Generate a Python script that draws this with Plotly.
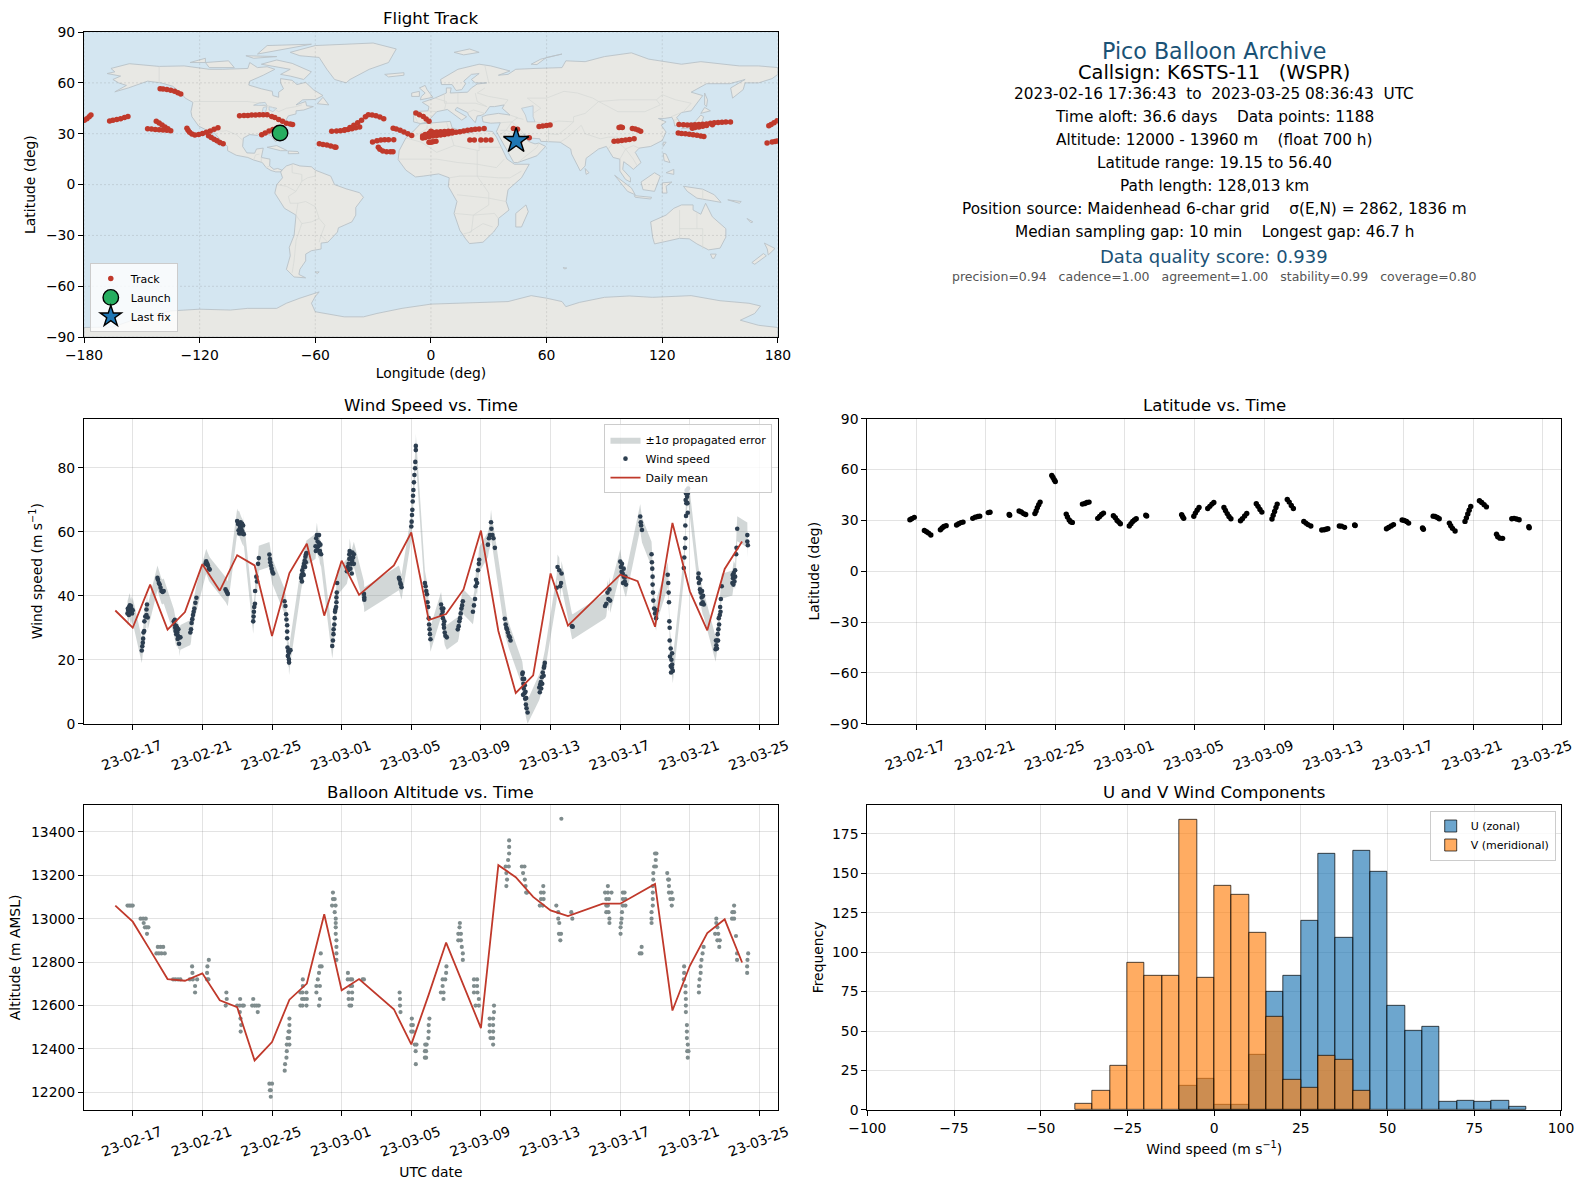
import pandas as pd
import plotly.graph_objects as go

FONT = "DejaVu Sans"
W, H = 1586, 1189
PLOT_L, PLOT_R, PLOT_T, PLOT_B = 83.5, 1563.3, 31.6, 1115.0

# ---------- map geography (lon, lat) ----------
north_america = [(-168,65.5),(-164,66.5),(-166,68.5),(-156.5,71.3),(-141,69.7),(-128,70),(-115,68),(-108,68),(-95,68.5),(-94,72),(-90,69),(-85,69.5),(-81,68),(-87,64.5),(-94,61),(-94.5,58.7),(-88,56.5),(-82.3,55),(-82,52.5),(-79,51.5),(-79,54.5),(-76.5,56.5),(-78,60),(-78,62.5),(-72,61.5),(-69.5,59),(-65,60.3),(-61,56),(-56,52.5),(-60,50.2),(-66.5,50),(-70,47),(-65,49),(-64.5,46.5),(-61,46),(-66,44),(-70,43.5),(-70,41.7),(-74,40.5),(-75.5,37.5),(-76,35),(-79,33.5),(-81,31.5),(-80,27),(-80.5,25.2),(-82,27),(-83,29),(-85,29.7),(-89,30),(-90,29),(-94,29.5),(-97.3,27.5),(-97.7,22.5),(-95.5,18.7),(-91.5,18.5),(-90.5,21),(-87,21.5),(-88,16),(-83.5,15),(-83.7,11),(-81.5,9),(-79.5,9.5),(-77.3,8.5),(-78,7.5),(-80.5,7.5),(-83,8.3),(-85.5,10),(-87.5,13),(-92,14.5),(-95,16),(-101,17.3),(-105.5,20),(-105.5,22.5),(-109,26),(-113,31.3),(-114.7,31.7),(-112,27),(-109.5,23),(-112,25),(-115,28),(-117,32.5),(-120.5,34.5),(-124,40),(-124.5,43),(-123.5,48.5),(-127.5,51),(-130,54.5),(-134,58),(-140,60),(-147,61),(-152,59),(-157,57),(-164,54.7),(-158,58.5),(-162,60),(-165,62),(-161,64),(-168,65.5)]
south_america = [(-77.3,8.5),(-75,11),(-71.5,12.3),(-68,11),(-62,10.5),(-60,8.5),(-52,5),(-50,0),(-44,-2.5),(-37,-4.8),(-35,-7.5),(-39,-13.5),(-39,-18),(-41,-22),(-48,-25.5),(-48.5,-28),(-53.5,-34),(-57,-34.5),(-57,-38),(-62,-39),(-65,-41),(-65,-45),(-68,-50),(-68.5,-53),(-65,-55),(-71,-54.5),(-75,-50),(-73,-42),(-73.5,-37),(-71,-30),(-70,-18),(-76,-14),(-81,-5),(-80,0),(-77,4),(-78,7.5),(-77.3,8.5)]
africa = [(-5.5,35.8),(10,37.3),(11,33.5),(19,30.3),(25,32),(32,31.3),(34,28),(37,21),(39.5,15),(43.3,12),(51,12),(47,4),(40,-3),(39,-10),(40.5,-15),(35,-20),(35,-24),(32.5,-28),(27,-34),(20,-34.8),(18,-32),(15,-27),(12,-17),(13.5,-10),(9,-1),(9.5,4),(4,6.3),(-4,5),(-8,4.5),(-13,8.5),(-17,14.7),(-16.5,20),(-13,27.5),(-9.5,31),(-5.5,35.8)]
eurasia = [(-9,37),(-9,43),(-1.5,43.5),(-1,46),(-4.5,48.5),(2,51),(8,54),(8,57),(10.5,57),(10,54),(19,54.5),(21,57),(24,59.3),(29,60),(23,60),(21,62),(25,65.5),(21,65),(17,61),(18,59.5),(16,56),(13,55.5),(11,59),(5.5,59),(5,62),(14,68),(25,71),(31,70),(41,67),(35,64.5),(40,65),(44,68),(54,68.5),(68,69),(70,73),(80,72.5),(90,75.5),(104,77.7),(113,74),(130,71),(140,72.5),(160,70),(170,70),(180,69),(180,65),(177,62.5),(170,60),(163,60),(162,56),(156.5,51),(155.5,57),(163,62),(155,59.5),(143,59.5),(135,54.5),(141,52.5),(135,43.5),(130,42.5),(127.5,39.5),(129.5,36),(126.5,34.5),(126,37.5),(125,39.7),(121,39),(118,39),(122,37),(119.5,35),(122,31),(120,26),(114,22.5),(108,21.5),(106,19),(109,13),(105,9),(103,11),(100,13.5),(99.5,9),(103.5,4),(103.5,1.5),(101,3),(98,8),(98,15),(94.5,16),(91,22.5),(87,21),(80.5,15.5),(80,11),(77.5,8),(73,18),(72.5,21),(67,25),(57,25.5),(56.5,27),(51,27.5),(48,30),(50,26),(51.5,25),(54,24),(56,24.5),(59.5,22.5),(55,17),(45,13),(43,13),(39,21),(34.9,29),(34,31.3),(36,36.5),(31,36.2),(27,37),(26.5,40),(29,41),(35,42),(41,41),(37,45),(38,47),(33,46),(30.5,46),(28,42),(26,40.8),(24,40.5),(23,36.5),(19.5,41),(19,42.5),(13.5,45.5),(12.5,44),(18.5,40),(16,38),(11,42.5),(8.5,44.3),(3,43),(0,39.5),(-2,36.8),(-5.5,36),(-9,37)]
australia = [(114,-22),(122,-18),(126,-14),(130,-12),(136,-12),(136,-15),(140,-17.5),(142.5,-11),(146,-19),(153,-26),(153,-31),(150,-37.5),(144,-38.5),(138,-35),(134,-32),(129,-31.7),(124,-33),(116,-35),(115,-31),(114,-22)]
antarctica = [(-180,-84.3),(-165,-84),(-150,-78),(-135,-74.5),(-120,-73.5),(-104,-74),(-95,-73),(-80,-73),(-75,-70),(-68,-67),(-58,-63.3),(-60,-66),(-62,-70),(-60,-75),(-45,-78),(-35,-78),(-28,-76),(-15,-73),(0,-70.5),(15,-70),(30,-69.5),(40,-69),(52,-65.5),(60,-67),(68,-69),(70,-72),(77,-69.5),(90,-66.5),(103,-65.7),(115,-66.5),(135,-65.5),(150,-68.5),(165,-70),(171,-71.6),(168,-76),(160.5,-80),(170,-83),(180,-84.3),(180,-90),(-180,-90),(-180,-84.3)]
islands = [
 [(-73,78),(-60,82),(-30,83.5),(-18,80),(-22,72),(-32,68),(-42,62),(-44,60),(-50,62),(-54,68),(-58,75),(-68,76),(-73,78)],
 [(-80,73.5),(-72,71.5),(-62,66.5),(-66,62),(-73,64),(-78,65),(-73,68),(-88,71),(-80,73.5)],
 [(-117,72),(-105,73),(-102,69),(-115,69),(-117,72)],
 [(-90,77),(-65,82),(-62,82.8),(-85,82),(-90,77)],
 [(-125,72),(-117,74.5),(-117,72),(-125,72)],
 [(-96,76),(-80,75.5),(-92,74.5),(-96,76)],
 [(-59,47.7),(-56,51.5),(-53,47),(-59,47.7)],
 [(-85,22),(-80,23),(-74.5,20),(-78,20),(-85,22)],
 [(-74,19.8),(-69,19.5),(-68.5,18.3),(-74,18.2),(-74,19.8)],
 [(-5.5,50),(1,51.5),(-2,56),(-3,58.5),(-6,57),(-3,54),(-5,52),(-5.5,50)],
 [(-10,52),(-6,52),(-6,55),(-10,54),(-10,52)],
 [(-24,65),(-14,66),(-14,64.5),(-22,63.5),(-24,65)],
 [(12,78),(20,80),(25,78),(17,76.5),(12,78)],
 [(52,71),(57,74),(68,77),(60,75),(55,70.8),(52,71)],
 [(142,54),(143.5,50),(143,46),(142,47),(142,54)],
 [(130,33),(135,33.5),(140,35),(141.5,40),(140,41),(137,37),(131,34),(130,33)],
 [(140,42),(142,45.5),(145,43.5),(141,42),(140,42)],
 [(120.5,22.5),(122,25),(120.5,25),(120.5,22.5)],
 [(120.5,18.5),(122,18),(124,13),(121,14),(120.5,18.5)],
 [(122,7),(126,9),(126,6),(124,6.5),(122,7)],
 [(109,1.5),(116,7),(119,5),(117.5,1),(116,-4),(110,-3),(109,1.5)],
 [(95.3,5.5),(104,-2),(106,-6),(102,-4),(95.3,5.5)],
 [(105.5,-6.5),(114.5,-7.5),(114,-8.5),(106,-7.5),(105.5,-6.5)],
 [(120,1),(125,1.5),(122,-1),(122.5,-5),(120,-5),(120,1)],
 [(131,-1),(141,-2.7),(147,-6),(150.5,-10.5),(143,-9),(138,-8),(133,-4),(131,-1)],
 [(49.3,-12),(50.5,-16),(47,-25),(44,-25),(44,-17),(49.3,-12)],
 [(80,9.5),(82,7),(80.5,6),(80,9.5)],
 [(145,-41),(148,-41),(147,-43.5),(146,-43.5),(145,-41)],
 [(173,-34.5),(178.5,-37.7),(175,-41.5),(174.5,-38),(173,-34.5)],
 [(172.5,-40.7),(174,-42),(168,-47),(166.5,-46),(172.5,-40.7)],
 [(154,-9),(161,-10),(160,-11),(154,-9)],
 [(164,-20),(167,-22),(166,-22.5),(164,-20)],
 [(-60,-51.5),(-58,-51.5),(-59,-52.5),(-60,-51.5)],
 [(68.5,-49),(70.5,-49.2),(69.5,-49.8),(68.5,-49)],
]
lakes = [
 [(47,45),(53,46.5),(53,40),(54,37),(50,37),(49,41),(47,45)],
 [(-92,46.8),(-85,46.6),(-86,48.5),(-89,48.2),(-92,46.8)],
 [(-87.7,42),(-86,42),(-85,46),(-87,45.5),(-87.7,42)],
 [(-84,46),(-80,45),(-82,43),(-84,44),(-84,46)],
]
border_lines = [
 [(-141,69.7),(-141,60)],
 [(-123,49),(-95,49),(-89,48),(-83,46),(-79,43),(-75,45),(-70,46),(-67,47)],
 [(-117,32.5),(-108,31.5),(-106,31.8),(-101,29.5),(-97.5,26)],
 [(-92,14.5),(-91,17.5),(-89,18)],[(-88,16),(-88,13)],[(-85.5,10),(-83.7,11)],
 [(-72,12),(-72,7),(-67,6),(-67,2),(-70,-4),(-74,-7),(-73,-11),(-69,-11),(-65,-10),(-60,-13),(-58,-20),(-55,-24),(-57,-30),(-53.5,-34)],
 [(-60,8.5),(-60,5),(-64,4),(-67,2)],[(-80,0),(-75,-1),(-70,-4)],[(-70,-18),(-69,-11)],
 [(-70,-18),(-67,-23),(-70,-33),(-71,-45),(-72,-52)],[(-67,-23),(-62,-22),(-58,-20)],[(-57,-30),(-58,-34)],
 [(-9,28),(-2,33),(-2,35)],[(-13,27.5),(-5,25),(3,19),(12,23),(10,30),(8,37)],[(12,23),(25,20),(25,32)],
 [(25,22),(37,22)],[(-17,15),(-5,15),(3,15),(14,13),(24,12),(34,10),(38,15)],[(24,20),(24,5),(30,-5),(30,-12),(22,-18),(21,-28),(17,-29)],
 [(9.5,4),(15,5),(24,5),(35,4),(41,4),(47,8)],[(13.5,-6),(22,-7),(30,-8),(39,-10)],[(12,-17),(22,-18),(33,-17),(35,-20)],[(20,-28),(27,-23),(32,-25)],
 [(-1.5,43.5),(3,43)],[(-9,42),(-7,37)],[(2,51),(8,49),(7,44)],[(7,54),(7,48),(13,48),(17,48),(23,48),(29,46)],[(14,54),(14,48)],[(23,54),(24,49),(29,46)],[(28,57),(24,54),(30,52),(40,50),(38,47)],[(28,70),(30,60)],
 [(26,40.8),(28,42),(22,44),(19,42.5)],[(36,36.5),(42,37),(45,39.5),(41,41)],[(42,37),(46,33),(48,30)],[(36,32),(39,32),(42,37)],[(36,29.5),(39,32),(47,29),(48,30)],
 [(45,13),(52,19),(55,22),(56,24.5)],[(44,39.5),(48,38.5)],[(54,37),(61,36),(61,31),(61,25)],[(61,36),(66,37.5),(74,37)],[(61,30),(66,29.5),(70,33),(74,37)],
 [(67,25),(71,28),(75,32),(78,35),(80,30),(88,27),(92,28),(97,28),(94,24),(92,21)],
 [(53,42),(57,45),(50,51),(60,51),(69,55),(76,54),(84,51),(87,49),(98,50),(107,50),(117,50),(120,53),(127,50),(135,48),(131,43)],
 [(87,49),(80,42),(74,40),(74,37)],[(87,49),(97,43),(111,43),(119,47),(117,50)],[(98,28),(98,24),(101,21),(105,23),(108,21.5)],[(101,21),(105,15),(107,11)],[(98,15),(101,21)],
 [(124.5,40),(130,42.5)],[(126,38),(128.5,38.5)],[(141,-2.7),(141,-9)],[(129,-15),(129,-31.7)],[(138,-16),(138,-26),(141,-26),(141,-38)],[(129,-26),(138,-26)],
]
map_lon_ticks = [-180, -120, -60, 0, 60, 120, 180]
map_lat_ticks = [-90, -60, -30, 0, 30, 60, 90]

# ---------- flight track (lon, lat) ----------
track_pts = [
 (-179.8,37.9),(-178.5,38.9),(-177.3,40),(-176.4,41.1),
 (-166.7,37.5),(-165,37.9),(-163,38.4),(-161,38.9),(-159,39.5),(-157.2,40.2),
 (-140.5,56.5),(-139,56.4),(-137,56.1),(-135,55.6),(-133,55),(-131.3,54.2),(-129.8,53.5),
 (-147,32.9),(-145,32.8),(-143,32.5),(-141,32.3),(-139,32.2),(-137,32),(-135,31.8),(-142.5,37.3),(-141,36.3),(-139.5,35.2),(-138,34),(-136.5,33),
 (-126.6,33.3),(-126,32),(-125.2,30.8),(-124,29.8),(-122.5,29.2),(-120.5,29.6),(-118.5,30.1),(-116.5,30.8),(-114.5,31.6),(-112.5,32.6),(-110.5,33.5),
 (-115.4,28.8),(-114,27.8),(-112.5,26.8),(-111,25.8),(-109.5,24.8),(-107.8,24.1),
 (-99.3,40.6),(-97,40.7),(-95,40.7),(-93,41),(-91,41.1),(-89,41.2),(-87,41.2),(-85,41.2),
 (-82.6,40.2),(-81,39.5),(-79,38.4),(-77,37.3),(-75,36.2),(-73,35.7),(-71.8,35.5),
 (-87.8,29.4),(-86,30.5),(-84,31.6),(-82,32.5),(-80,33.3),
 (-57.9,24.1),(-56,23.7),(-54,23.4),(-52,22.8),(-50,22.2),(-49.3,22),
 (-51.5,31.4),(-49,31.6),(-47,31.7),(-45,32),(-43,32.5),(-41,33),(-39,33.5),(-37,33.9),(-44.6,32.4),(-42,33.6),(-40,35),(-38,36.5),(-36,38),(-34,40),(-32.5,41.2),(-30.5,41.1),(-28.5,40.6),(-26.5,39.8),(-24.5,38.9),
 (-30.3,25.1),(-28,25.9),(-26,26.3),(-24,26.5),(-22,26.5),(-19.3,26.5),(-27.3,22),(-26.5,20.8),(-25,19.8),(-23,19.4),(-21,19.3),(-19.7,19.3),
 (-19.6,33.3),(-18,32.8),(-16,32),(-14,31),(-12,30),(-10,28.9),
 (-7.8,42.2),(-6,41.2),(-4,40.2),(-2.5,38.7),(-1,37.3),
 (-4.3,27.5),(-3,27.8),(-1,28.2),(1,28.7),(3,29),(5,29.3),(7,29.6),(9,30),(11,30.4),(13,30.8),(15,31.2),(17,31.6),(19,32),(21,32.3),(23,32.6),(25,32.8),(27.6,33.1),
 (-4.3,28.6),(-3,29.5),(-1,30.3),(1,30.8),(3,31),(5,31.2),(7,31.3),(9,31.4),(11,31.4),
 (-2.5,28.5),(-1,29),(1,29.5),(3,30),(5,30.2),(-1,25),(0,25),(1,25.2),(2.6,25.6),(-3,29),(0,31.4),(2,30),
 (20.2,26.3),(22.5,26.3),(25.9,26.3),(28.5,26.3),(31.1,26.3),
 (42.8,33.1),(44.9,32.7),(51,27.6),(56.1,34.3),(58,34.6),(60,34.9),(61.8,35.1),
 (97.6,33.7),(98.5,33.9),(99.3,33.7),(104.5,33.1),(106,32.8),(107.5,32.2),(108.8,31.4),
 (95,25.5),(97,25.7),(99,26),(101,26.3),(103,26.6),(105.4,27),
 (128.7,35.5),(131,35.3),(133,35.2),(135,35.2),(137,35.3),(139,35.5),(141,35.6),(143,35.8),(145,36.2),(147,36.4),(149,36.6),(151,36.7),(153,36.9),(155.4,36.9),
 (135.6,33.3),(137,33.7),(139,34),(141,34.4),(143,34.8),(146,35.3),
 (128.3,30.4),(130,30.2),(132,30),(134,29.7),(136,29.4),(138,29.1),(140,28.6),(141.6,28.4),
 (175.3,34.7),(176.5,35.4),(178,36.5),(179.6,37.6),(174.4,24.5),(177,25.1),(178.5,25.4),(179.6,25.7),
 (44.2,26.5),(46,25),
]
launch_point = (-78.3, 30.4)
last_fix_point = (44.2, 25.9)

# ---------- time axis ----------
first_day = pd.Timestamp("2023-02-17")
date_range = ["2023-02-14 04:50", "2023-03-26 01:20"]
date_ticks = ["2023-02-17","2023-02-21","2023-02-25","2023-03-01","2023-03-05","2023-03-09","2023-03-13","2023-03-17","2023-03-21","2023-03-25"]
date_labels = ["23-02-17","23-02-21","23-02-25","23-03-01","23-03-05","23-03-09","23-03-13","23-03-17","23-03-21","23-03-25"]

# ---------- wind speed: (days after 23-02-17, m/s) ----------
wind_obs = [
 (-0.3,34.5),(-0.25,35.5),(-0.2,36.5),(-0.17,37),(-0.12,35),(-0.08,36),(-0.04,34.5),(0,35.5),
 (0.52,22.9),(0.55,24.2),(0.58,25.3),(0.6,26.6),(0.62,28.5),(0.66,29),(0.67,32),(0.72,33.5),(0.79,34),(0.79,35.7),(0.82,37.3),(0.86,33.2),
 (1.42,45.6),(1.45,45),(1.5,44),(1.55,43.5),(1.6,42.5),(1.65,41.5),(1.72,41.2),(1.78,41.5),
 (2.36,32),(2.4,31),(2.44,30),(2.46,29),(2.5,28),(2.56,28.5),(2.6,27.5),(2.68,27),(2.66,25),(2.74,27),
 (3.31,28.5),(3.35,29.5),(3.38,31.5),(3.42,32.7),(3.46,34),(3.5,35),(3.54,36),(3.6,37.8),(3.66,39.4),
 (4.18,50),(4.22,50.8),(4.28,50),(4.32,49.5),(4.38,48.5),(4.42,48.2),
 (5.33,42),(5.38,41.5),(5.42,41),(5.46,40.6),
 (6,63.4),(6.05,62.5),(6.1,62.8),(6.16,61.5),(6.22,61),(6.26,60.5),(6.3,60),(6.38,59.3),(6.34,62),
 (6.92,32),(6.94,33.5),(6.96,35),(6.98,36.5),(7.02,37.5),(7.03,41.5),(7.1,46),(7.14,44.5),(7.2,50),(7.24,51.8),
 (7.85,52.9),(7.88,51.5),(7.9,50.5),(7.94,49.5),(7.98,48.5),(8.02,47.5),(8.07,47),
 (8.72,38.3),(8.77,36.8),(8.81,34.2),(8.83,32.6),(8.87,30.8),(8.87,28.8),(8.87,26.7),(8.89,23.8),(8.93,22.7),(8.91,21.2),(8.97,22.2),(8.97,20.1),(8.98,19.1),(9.06,23),
 (9.67,45.6),(9.7,46.5),(9.74,48),(9.76,47),(9.8,49),(9.84,50),(9.88,51),(9.92,52.2),(9.98,53.4),
 (10.5,55.5),(10.54,58),(10.58,59),(10.62,57),(10.66,55.5),(10.7,56.5),(10.75,54),(10.82,53),
 (11.46,24.3),(11.5,26),(11.53,28),(11.54,29.5),(11.58,31),(11.6,33),(11.62,35),(11.64,35.7),(11.68,36.5),(11.7,38),(11.7,39.5),(11.72,41),(11.74,44),
 (12.3,47.7),(12.34,49),(12.4,50),(12.44,51.5),(12.46,54),(12.52,52),(12.56,50),(12.6,51),(12.66,52),(12.7,53),
 (13.28,40.6),(13.3,39.5),(13.3,38.8),
 (15.29,45.6),(15.33,45),(15.37,44),(15.4,43.5),(15.44,42.7),
 (16,61.7),(16.02,63.2),(16.04,65.3),(16.06,66.9),(16.08,69.5),(16.1,71.3),(16.12,73.1),(16.15,75.5),(16.18,77.8),(16.22,79.9),(16.23,81.9),(16.26,85.6),(16.26,86.9),
 (16.78,44),(16.82,43),(16.86,41.5),(16.9,40.5),(16.93,38),(16.97,36.5),(17,33),(17.02,31),(17.05,29.5),(17.07,28),(17.1,26.4),
 (17.71,37.3),(17.75,36),(17.8,35),(17.82,33),(17.86,31),(17.88,30),(17.92,28.5),(18.04,27),
 (18.67,29.5),(18.72,30.5),(18.76,32),(18.8,33),(18.84,34.5),(18.88,36),(18.92,37),(18.96,38.3),
 (19.54,35),(19.6,37),(19.66,39),(19.7,43),(19.72,45),(19.78,44),(19.83,48),(19.88,50),(19.9,51.3),
 (20.4,56),(20.46,58),(20.52,59),(20.58,63),(20.6,61),(20.66,59),(20.72,58),(20.8,55),
 (21.37,32.8),(21.42,31),(21.46,30),(21.5,29.5),(21.55,28.5),(21.6,27.5),(21.66,27),(21.7,26),
 (22.38,15.5),(22.4,14),(22.44,12.5),(22.46,11),(22.5,9.5),(22.54,7.8),(22.58,6),(22.62,4.8),(22.68,3.5),
 (23.35,11.3),(23.4,12.2),(23.44,13),(23.5,14.5),(23.55,16),(23.62,17.5),(23.67,19),
 (24.35,42.5),(24.4,49),(24.5,48),(24.55,43),(24.6,44),(24.63,47),
 (25.23,30.5),(25.27,30.3),
 (27.13,36.8),(27.2,37.5),(27.27,41),(27.32,39),(27.38,42),(27.42,38.5),
 (28,50.7),(28.04,49),(28.08,47.5),(28.14,47),(28.2,46),(28.26,44.5),(28.33,43.5),
 (29.15,64.8),(29.18,63),(29.2,62),(29.25,60.6),
 (29.8,53),(29.82,50.5),(29.84,48.5),(29.86,46),(29.86,43.5),(29.88,41),(29.9,38.5),(29.95,36),(30,34.5),(30.06,33),(30.1,35.5),
 (30.73,46.6),(30.76,44),(30.78,41),(30.8,38),(30.82,32),(30.84,30),(30.84,26),(30.9,23.5),(30.94,20),(30.98,18.5),(31.02,16.5),
 (31.65,48.7),(31.68,52),(31.72,55),(31.74,58),(31.74,62),(31.78,65),(31.8,69),(31.84,71),(31.88,72),(31.9,73.6),
 (32.48,45.6),(32.52,44),(32.58,42),(32.62,41),(32.68,39.5),(32.74,38),(32.8,37.3),
 (33.48,23.3),(33.52,24.5),(33.56,26),(33.6,28),(33.64,29.5),(33.68,31),(33.72,34),(33.74,36.5),(33.78,39),(33.83,43),
 (34.44,44),(34.48,45.5),(34.52,47.1),(34.6,46),(34.66,53),(34.68,55),(34.72,61),
 (35.3,59),(35.3,57),(35.33,55.8),
]
wind_obs_side = [
 (-0.22,34),(-0.18,35.2),(-0.1,36.8),(-0.28,36),
 (2.42,32.5),(2.5,30.5),(2.55,30),(2.62,29.5),(2.58,26.5),
 (6.08,60.5),(6.2,63),(6.28,62.5),(6.12,59.5),(6.24,59.5),
 (9.72,44.5),(9.82,46.5),(9.9,49),(9.94,50.5),(9.95,53),
 (10.52,54),(10.6,54.5),(10.7,59),(10.78,56),(10.74,53.5),
 (12.38,48),(12.5,48.5),(12.62,53.5),(12.7,50),(12.44,53),(12.58,47),
 (17.74,34),(17.84,36),(17.9,32),(17.96,27.5),
 (22.42,9),(22.48,14),(22.52,12),(22.56,10),(22.4,16),(22.6,8),
 (23.38,9.8),(23.46,11),(23.52,12.5),(23.6,15),(23.64,18),
 (28.1,50),(28.2,48.5),(28.3,46),(28.16,44),
 (30.9,18),(30.96,17.5),(30.98,22),(30.86,21),(30.92,16),
 (31.76,70),(31.82,73),(31.86,69),(31.78,72),(31.88,66),
 (32.5,47),(32.6,45),(32.7,41.5),(32.76,40),(32.66,37.5),
 (33.5,26),(33.56,23.5),(33.62,26),(33.66,33),(33.76,35),
 (34.46,46.5),(34.56,44.5),(34.6,48),(34.5,43.5),
]
wind_sigma = 3.9
daily_days_w = [-1,0,1,2,3,4,5,6,7,8,9,10,11,12,13,15,16,17,18,19,20,21,22,23,24,25,28,29,30,31,32,33,34,35]
daily_wind = [35.4,30,43.5,29.4,34.9,49.9,41.6,52.7,49.5,27.4,47.1,56.3,33.8,51,40.3,49.5,59.8,32.4,34.3,42,60.4,29,9.6,15.1,47,30.7,46.6,44.6,30.3,62.8,41.4,29.2,48.4,57]

# ---------- latitude: (days after 23-02-17, deg) ----------
lat_obs = [
 (-0.35,30.4),(-0.25,31),(-0.1,31.8),
 (0.48,24.1),(0.6,23.3),(0.72,22.5),(0.85,21.4),
 (1.4,24.5),(1.5,25.5),(1.6,26.4),(1.73,26.9),
 (2.33,27.3),(2.45,28),(2.58,28.7),(2.7,29),
 (3.26,31.2),(3.4,31.9),(3.55,32.3),(3.66,32.5),
 (4.15,34.6),(4.25,34.8),
 (5.35,33.5),(5.38,33),
 (5.92,35.5),(6.05,35),(6.18,34),(6.3,33.5),
 (6.83,34),(6.9,35.5),(6.97,37.5),(7.05,39.3),(7.13,40.8),
 (7.8,56.5),(7.87,55.3),(7.94,54),(8,53),
 (8.63,33.7),(8.7,32),(8.8,30.3),(8.88,29.2),(8.98,28.8),
 (9.56,39.6),(9.7,40),(9.82,40.6),(9.94,40.8),
 (10.44,31.2),(10.55,32.3),(10.66,33.5),(10.77,34.3),
 (11.34,32.7),(11.45,31.6),(11.55,30),(11.65,29),(11.74,28),
 (12.25,26.7),(12.35,28),(12.45,29.3),(12.55,30.3),(12.65,31),
 (13.2,33),(13.25,32.6),
 (15.26,33.3),(15.32,32.2),(15.38,31.2),
 (15.96,32.4),(16.05,34.3),(16.15,36),(16.26,37.6),
 (16.76,37),(16.88,38.3),(17,39.6),(17.11,40.6),
 (17.69,37.6),(17.78,35.8),(17.88,34),(17.98,32.3),(18.09,31),
 (18.64,29.8),(18.75,31),(18.88,32.6),(19,34.1),
 (19.55,39.8),(19.65,38.3),(19.76,36.4),(19.87,34.9),
 (20.45,30.8),(20.52,33),(20.6,35.3),(20.68,37.6),(20.75,39.6),
 (21.33,42.4),(21.44,40.8),(21.56,38.8),(21.68,37),
 (22.28,29.4),(22.4,28.4),(22.52,27.5),(22.68,26.7),
 (23.31,24.3),(23.45,24.5),(23.55,24.8),(23.66,25.1),
 (24.32,26.7),(24.45,26.6),(24.62,25.9),
 (25.2,27.3),(25.23,27),
 (27.03,25.1),(27.15,25.8),(27.3,26.7),(27.43,27.5),
 (27.93,30.2),(28.05,30),(28.18,29.3),(28.3,28.4),
 (29.1,25.5),(29.15,24.8),
 (29.71,32.5),(29.82,32.3),(29.95,31.7),(30.06,31),
 (30.64,28.4),(30.72,26.9),(30.82,25.3),(30.97,23.7),
 (31.54,29.4),(31.62,31.5),(31.7,33.8),(31.78,36),(31.87,38.2),
 (32.37,41.6),(32.5,40.6),(32.64,39.3),(32.77,38),
 (33.35,21.8),(33.42,20.3),(33.55,19.5),(33.7,19.4),
 (34.23,31),(34.36,31.2),(34.5,30.8),(34.65,30.4),
 (35.21,26.2),(35.23,25.6),
]

# ---------- altitude: (days after 23-02-17, m) ----------
alt_obs = [
 (-0.3,13060),(-0.2,13060),(-0.1,13060),(0,13060),
 (0.45,13000),(0.6,13000),(0.75,13000),(0.63,12980),(0.7,12960),(0.8,12960),(0.9,12960),(0.82,12930),
 (1.44,12870),(1.6,12870),(1.75,12870),(1.36,12840),(1.5,12840),(1.65,12840),(1.84,12840),
 (2.32,12720),(2.45,12720),(2.6,12720),(2.74,12720),
 (3.41,12780),(3.43,12750),(3.28,12720),(3.45,12720),(3.7,12720),(3.58,12690),(3.58,12660),
 (4.37,12810),(4.29,12780),(4.27,12750),(4.27,12720),(4.35,12720),
 (5.38,12660),(5.4,12630),(5.34,12600),
 (6.17,12630),(6,12600),(6.15,12600),(6.3,12600),(6.38,12600),(6.15,12570),(6.19,12540),(6.23,12510),(6.2,12480),
 (6.92,12630),(6.86,12600),(7,12600),(7.12,12600),(7.24,12600),(7.18,12570),
 (7.85,12240),(8,12240),(7.93,12210),(7.88,12210),(7.93,12180),
 (9,12540),(9,12510),(8.95,12480),(9,12480),(8.9,12450),(8.98,12450),(8.85,12420),(9,12420),(8.85,12390),(8.83,12360),(8.75,12330),(8.73,12300),
 (9.77,12720),(9.77,12690),(9.63,12660),(9.75,12660),(9.98,12660),(9.73,12630),(9.85,12630),(10,12630),(9.63,12600),(9.75,12600),(9.98,12600),
 (10.8,12840),(10.75,12780),(10.85,12780),(10.7,12750),(10.63,12720),(10.55,12690),(10.75,12690),(10.55,12660),(10.75,12630),(10.7,12600),
 (11.5,13120),(11.5,13090),(11.6,13090),(11.45,13060),(11.65,13060),(11.6,13030),(11.66,13000),(11.66,12980),(11.66,12960),(11.66,12930),(11.7,12900),(11.7,12870),(11.7,12840),(11.7,12810),
 (12.36,12750),(12.35,12720),(12.5,12720),(12.6,12720),(12.5,12690),(12.6,12690),(12.4,12660),(12.6,12660),(12.4,12630),(12.6,12630),(12.45,12600),(12.55,12600),
 (13.28,12720),(13.2,12720),
 (15.33,12660),(15.35,12630),(15.35,12600),(15.38,12570),
 (16.03,12540),(16.09,12510),(16,12510),(16.09,12480),(16,12480),(16.2,12420),(16.3,12420),(16.25,12390),(16.26,12330),
 (17.04,12540),(17,12510),(17,12480),(16.98,12450),(16.88,12420),(16.8,12420),(16.85,12390),(16.78,12390),(16.85,12360),(16.78,12360),
 (18.02,12780),(18,12750),(17.8,12720),(17.95,12720),(17.8,12690),(17.7,12660),(17.85,12660),(17.85,12630),
 (18.79,12980),(18.77,12960),(18.7,12930),(18.85,12930),(18.7,12900),(18.85,12900),(18.9,12870),(18.96,12840),(18.96,12810),
 (19.6,12720),(19.78,12720),(19.6,12690),(19.78,12690),(19.6,12660),(19.8,12660),(19.88,12630),(19.69,12600),(19.88,12600),
 (20.75,12600),(20.75,12570),(20.5,12540),(20.7,12540),(20.5,12510),(20.7,12510),(20.5,12480),(20.7,12480),(20.55,12450),(20.7,12450),(20.7,12420),
 (21.62,13360),(21.62,13330),(21.62,13300),(21.56,13270),(21.42,13240),(21.6,13240),(21.46,13210),(21.5,13180),(21.46,13150),
 (22.35,13240),(22.5,13240),(22.42,13210),(22.52,13180),(22.56,13150),(22.65,13120),(22.6,13120),
 (23.58,13150),(23.45,13120),(23.6,13120),(23.45,13090),(23.6,13090),(23.38,13060),(23.55,13060),
 (24.33,13060),(24.44,13030),(24.44,13000),(24.5,12980),(24.48,12930),(24.6,12930),(24.56,12900),(24.62,13460),
 (25.19,13030),(25.25,13000),
 (27.29,13150),(27.13,13120),(27.29,13120),(27.5,13120),(27.2,13090),(27.35,13090),(27.29,13060),(27.2,13060),(27.33,13030),(27.2,13030),(27.38,13000),(27.38,12980),
 (28.15,13120),(28.25,13120),(28.15,13090),(28.3,13090),(28.15,13060),(28.3,13060),(28.1,13030),(28.08,13000),(28.05,12980),(28.02,12960),(28.02,12930),
 (29.23,12870),(29.12,12840),(29.22,12840),
 (30.0,13300),(30.08,13300),(30.04,13270),(29.95,13240),(30.05,13240),(29.9,13210),(29.9,13180),(29.87,13150),(29.87,13120),(29.87,13090),(29.87,13060),(29.8,13030),(29.8,13000),(29.8,12980),
 (30.7,13210),(30.75,13180),(30.8,13180),(30.8,13150),(30.8,13120),(30.95,13120),(30.88,13090),(31.02,13090),(30.96,13060),
 (31.67,12780),(31.67,12750),(31.65,12720),(31.75,12690),(31.75,12660),(31.77,12630),(31.77,12600),(31.77,12570),(31.83,12510),(31.83,12480),(31.83,12450),(31.88,12420),(31.85,12390),(31.92,12390),(31.88,12360),
 (32.79,12870),(32.73,12840),(32.67,12810),(32.62,12780),(32.62,12750),(32.56,12720),(32.52,12690),(32.52,12660),
 (33.52,13000),(33.52,12980),(33.58,12960),(33.45,12930),(33.63,12930),(33.58,12900),(33.72,12900),(33.69,12870),
 (34.54,13060),(34.44,13030),(34.54,13030),(34.42,13000),(34.54,13000),(34.65,12920),(34.71,12840),(34.71,12810),
 (35.35,12840),(35.31,12810),(35.29,12780),(35.29,12750),
]
daily_days_a = [-1,0,1,2,3,4,5,6,7,8,9,10,11,12,13,15,16,17,18,19,20,21,22,23,24,25,27,28,29,30,31,32,33,34,35]
daily_alt = [13060,12986,12855,12722,12714,12748,12624,12592,12347,12432,12627,12701,13020,12670,12722,12583,12421,12650,12890,12696,12496,13246,13191,13100,13038,13012,13069,13069,13114,13160,12577,12783,12934,12997,12798]

# ---------- histogram ----------
hist_u_left = [-10,-5,0,5,10,15,20,25,30,35,40,45,50,55,60,65,70,75,80,85]
hist_u = [15,20,3,3,35,75,85,120,162,109,164,151,66,50,53,5,6,5,6,2]
hist_v_left = [-40,-35,-30,-25,-20,-15,-10,-5,0,5,10,15,20,25,30,35,40]
hist_v = [4,12,28,93,85,85,184,84,142,136,112,59,19,14,34,32,12]
bin_width = 5

# ---------- text panel ----------
info_lines = [
 ("Pico Balloon Archive", 50.6, 22.2, "#1a5276"),
 ("Callsign: K6STS-11\u00a0\u00a0\u00a0(WSPR)", 72.8, 19.4, "#000000"),
 ("2023-02-16 17:36:43\u00a0\u00a0to\u00a0\u00a02023-03-25 08:36:43\u00a0\u00a0UTC", 94, 15.3, "#000000"),
 ("Time aloft: 36.6 days\u00a0\u00a0\u00a0\u00a0Data points: 1188", 117.3, 15.3, "#000000"),
 ("Altitude: 12000 - 13960 m\u00a0\u00a0\u00a0\u00a0(float 700 h)", 140.6, 15.3, "#000000"),
 ("Latitude range: 19.15 to 56.40", 162.8, 15.3, "#000000"),
 ("Path length: 128,013 km", 186, 15.3, "#000000"),
 ("Position source: Maidenhead 6-char grid\u00a0\u00a0\u00a0\u00a0\u03c3(E,N) = 2862, 1836 m", 209.4, 15.3, "#000000"),
 ("Median sampling gap: 10 min\u00a0\u00a0\u00a0\u00a0Longest gap: 46.7 h", 232.6, 15.3, "#000000"),
 ("Data quality score: 0.939", 257, 18, "#1a5276"),
 ("precision=0.94\u00a0\u00a0\u00a0cadence=1.00\u00a0\u00a0\u00a0agreement=1.00\u00a0\u00a0\u00a0stability=0.99\u00a0\u00a0\u00a0coverage=0.80", 277.5, 12.5, "#555555"),
]
panel_titles = [
 ("Flight Track", 431, 18.2), ("Wind Speed vs. Time", 431, 406.6), ("Latitude vs. Time", 1215.8, 406.6),
 ("Balloon Altitude vs. Time", 431, 795.5), ("U and V Wind Components", 1215.8, 795.5),
]

# ---------- helpers ----------
def to_dates(days):
    return [(first_day + pd.Timedelta(days=float(d))).strftime("%Y-%m-%d %H:%M:%S") for d in days]

def polys(polygons):
    xs, ys = [], []
    for p in polygons:
        xs += [q[0] for q in p] + [None]
        ys += [q[1] for q in p] + [None]
    return xs, ys

def px(x): return (x - PLOT_L) / (PLOT_R - PLOT_L)
def py(y): return (PLOT_B - y) / (PLOT_B - PLOT_T)
def dom_x(a, b): return [px(a), px(b)]
def dom_y(top, bottom): return [py(bottom), py(top)]

COL1 = (83.5, 778.7)
COL2 = (868.3, 1563.3)
ROW1 = (31.6, 338.3)
ROW2 = (420.3, 726.7)
ROW3 = (808.3, 1115.0)

fig = go.Figure()
land_x, land_y = polys([north_america, south_america, africa, eurasia, australia, antarctica] + islands)
fig.add_trace(go.Scatter(x=land_x, y=land_y, mode="lines", fill="toself", fillcolor="#e8e8e4",
                         line=dict(color="#b9c2c7", width=0.9), hoverinfo="skip", showlegend=False, xaxis="x", yaxis="y"))
lake_x, lake_y = polys(lakes)
fig.add_trace(go.Scatter(x=lake_x, y=lake_y, mode="lines", fill="toself", fillcolor="#d4e6f1",
                         line=dict(color="#b9c2c7", width=0.7), hoverinfo="skip", showlegend=False, xaxis="x", yaxis="y"))
bx, by = polys(border_lines)
fig.add_trace(go.Scatter(x=bx, y=by, mode="lines", line=dict(color="#d6d8d6", width=0.7),
                         hoverinfo="skip", showlegend=False, xaxis="x", yaxis="y"))
gx, gy = polys([[(v, -90), (v, 90)] for v in map_lon_ticks] + [[(-180, v), (180, v)] for v in map_lat_ticks])
fig.add_trace(go.Scatter(x=gx, y=gy, mode="lines", line=dict(color="rgba(120,120,120,0.28)", width=0.7, dash="2px,2px"),
                         hoverinfo="skip", showlegend=False, xaxis="x", yaxis="y"))
fig.add_trace(go.Scatter(x=[p[0] for p in track_pts], y=[p[1] for p in track_pts], mode="markers", name="Track",
                         marker=dict(color="#c0392b", size=5.5, line=dict(width=0)), xaxis="x", yaxis="y", legend="legend"))
fig.add_trace(go.Scatter(x=[launch_point[0]], y=[launch_point[1]], mode="markers", name="Launch",
                         marker=dict(color="#27ae60", size=15.5, line=dict(color="black", width=1.4)), xaxis="x", yaxis="y", legend="legend"))
fig.add_trace(go.Scatter(x=[last_fix_point[0]], y=[last_fix_point[1]], mode="markers", name="Last fix",
                         marker=dict(color="#1f77b4", symbol="star", size=19, line=dict(color="black", width=1.4)), xaxis="x", yaxis="y", legend="legend"))

wind_days = [p[0] for p in wind_obs]
wind_speed = [p[1] for p in wind_obs]
wind_dates = to_dates(wind_days)
fig.add_trace(go.Scatter(x=wind_dates + wind_dates[::-1],
                         y=[v + wind_sigma for v in wind_speed] + [max(v - wind_sigma, 0) for v in wind_speed[::-1]],
                         mode="lines", fill="toself", fillcolor="rgba(127,140,141,0.35)", line=dict(width=0),
                         name="\u00b11\u03c3 propagated error", hoverinfo="skip", xaxis="x2", yaxis="y2", legend="legend2"))
fig.add_trace(go.Scatter(x=wind_dates + to_dates([p[0] for p in wind_obs_side]), y=wind_speed + [p[1] for p in wind_obs_side],
                         mode="markers", name="Wind speed",
                         marker=dict(color="#2c3e50", size=4.6, line=dict(width=0)), xaxis="x2", yaxis="y2", legend="legend2"))
fig.add_trace(go.Scatter(x=to_dates(daily_days_w), y=daily_wind, mode="lines", name="Daily mean",
                         line=dict(color="#c0392b", width=1.8), xaxis="x2", yaxis="y2", legend="legend2"))

fig.add_trace(go.Scatter(x=to_dates([p[0] for p in lat_obs]), y=[p[1] for p in lat_obs], mode="markers",
                         marker=dict(color="black", size=5.4, line=dict(width=0)), showlegend=False, xaxis="x3", yaxis="y3"))

fig.add_trace(go.Scatter(x=to_dates([p[0] for p in alt_obs]), y=[p[1] for p in alt_obs], mode="markers",
                         marker=dict(color="#7f8c8d", size=4.2, line=dict(width=0)), showlegend=False, xaxis="x4", yaxis="y4"))
fig.add_trace(go.Scatter(x=to_dates(daily_days_a), y=daily_alt, mode="lines", line=dict(color="#c0392b", width=1.8),
                         showlegend=False, xaxis="x4", yaxis="y4"))

fig.add_trace(go.Bar(x=[v + bin_width / 2 for v in hist_u_left], y=hist_u, width=bin_width, name="U (zonal)",
                     marker=dict(color="rgba(31,119,180,0.65)", line=dict(color="rgba(0,0,0,0.7)", width=1)),
                     xaxis="x5", yaxis="y5", legend="legend3"))
fig.add_trace(go.Bar(x=[v + bin_width / 2 for v in hist_v_left], y=hist_v, width=bin_width, name="V (meridional)",
                     marker=dict(color="rgba(255,127,14,0.65)", line=dict(color="rgba(0,0,0,0.7)", width=1)),
                     xaxis="x5", yaxis="y5", legend="legend3"))

axis_common = dict(showline=True, linecolor="black", linewidth=1, mirror=True, ticks="outside", ticklen=5,
                   tickwidth=1, tickcolor="black", zeroline=False, tickfont=dict(size=13.9, color="black"),
                   gridcolor="rgba(128,128,128,0.22)", gridwidth=1, showgrid=True, automargin=True)
title_font = dict(size=13.9, color="black")

def date_axis(col, y_name, title=None):
    d = dict(axis_common)
    d.update(type="date", range=date_range, tickvals=date_ticks, ticktext=date_labels, tickangle=-20,
             ticklabelshift=28, ticklabelstandoff=3, domain=dom_x(*col), anchor=y_name)
    if title:
        d["title"] = dict(text=title, font=title_font, standoff=8)
    return d

layout = dict(
    width=W, height=H, autosize=False,
    margin=dict(l=PLOT_L, r=W - PLOT_R, t=PLOT_T, b=H - PLOT_B, pad=0), paper_bgcolor="white", plot_bgcolor="white",
    font=dict(family=FONT, color="black"), barmode="overlay", bargap=0,
    xaxis={**axis_common, "showgrid": False, "range": [-180, 180], "tickvals": map_lon_ticks, "domain": dom_x(*COL1), "anchor": "y",
           "title": dict(text="Longitude (deg)", font=title_font, standoff=6)},
    yaxis={**axis_common, "showgrid": False, "range": [-90, 90], "tickvals": map_lat_ticks, "domain": dom_y(*ROW1), "anchor": "x",
           "title": dict(text="Latitude (deg)", font=title_font, standoff=7)},
    xaxis2=date_axis(COL1, "y2"),
    yaxis2={**axis_common, "range": [0, 95.4], "tickvals": [0, 20, 40, 60, 80], "domain": dom_y(*ROW2), "anchor": "x2",
            "title": dict(text="Wind speed (m s<sup>\u22121</sup>)", font=title_font, standoff=11)},
    xaxis3=date_axis(COL2, "y3"),
    yaxis3={**axis_common, "range": [-90, 90], "tickvals": map_lat_ticks, "domain": dom_y(*ROW2), "anchor": "x3",
            "title": dict(text="Latitude (deg)", font=title_font, standoff=6)},
    xaxis4=date_axis(COL1, "y4", "UTC date"),
    yaxis4={**axis_common, "range": [12119, 13524], "tickvals": [12200, 12400, 12600, 12800, 13000, 13200, 13400], "tickformat": "d",
            "domain": dom_y(*ROW3), "anchor": "x4", "title": dict(text="Altitude (m AMSL)", font=title_font, standoff=7)},
    xaxis5={**axis_common, "range": [-100, 100], "tickvals": [-100, -75, -50, -25, 0, 25, 50, 75, 100], "domain": dom_x(*COL2), "anchor": "y5",
            "title": dict(text="Wind speed (m s<sup>\u22121</sup>)", font=title_font, standoff=9)},
    yaxis5={**axis_common, "range": [0, 193.3], "tickvals": [0, 25, 50, 75, 100, 125, 150, 175], "domain": dom_y(*ROW3), "anchor": "x5",
            "title": dict(text="Frequency", font=title_font, standoff=5)},
    shapes=[dict(type="rect", xref="x", yref="y", x0=-180, x1=180, y0=-90, y1=90, fillcolor="#d4e6f1", line=dict(width=0), layer="below")],
    legend=dict(x=px(89.3), y=py(333), xanchor="left", yanchor="bottom", bgcolor="rgba(255,255,255,0.8)", bordercolor="#cccccc",
                borderwidth=1, font=dict(size=11), itemsizing="trace", tracegroupgap=0),
    legend2=dict(x=px(773.3), y=py(425.7), xanchor="right", yanchor="top", bgcolor="rgba(255,255,255,0.8)", bordercolor="#cccccc",
                 borderwidth=1, font=dict(size=11), itemsizing="trace"),
    legend3=dict(x=px(1558), y=py(814), xanchor="right", yanchor="top", bgcolor="rgba(255,255,255,0.8)", bordercolor="#cccccc",
                 borderwidth=1, font=dict(size=11), itemsizing="trace"),
    annotations=[dict(text=t, x=px(1216), y=py(yy), xref="paper", yref="paper", xanchor="center", yanchor="middle",
                      showarrow=False, font=dict(size=s, color=c)) for t, yy, s, c in info_lines]
               + [dict(text=t, x=px(xx), y=py(yy), xref="paper", yref="paper", xanchor="center", yanchor="middle",
                       showarrow=False, font=dict(size=16.6, color="black")) for t, xx, yy in panel_titles],
)
fig.update_layout(**layout)
fig.write_html("out.html", config={"displayModeBar": False}, post_script="document.body.style.margin='0';")
